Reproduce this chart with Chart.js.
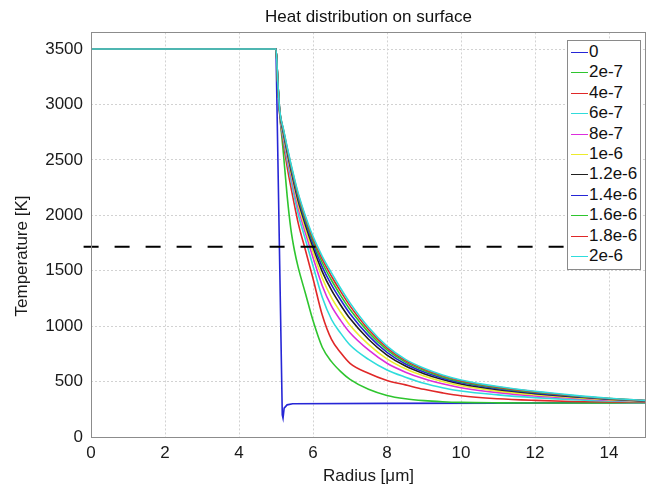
<!DOCTYPE html>
<html><head><meta charset="utf-8">
<script src="https://cdn.jsdelivr.net/npm/chart.js@4.4.0/dist/chart.umd.min.js"></script>
<style>
html,body{margin:0;padding:0;background:#fff;}
#wrap{position:relative;width:653px;height:488px;}
#legend{position:absolute;left:567px;top:40px;width:74px;height:230px;border:1px solid #8a8a8a;background:#fff;font:17px "Liberation Sans",Arial,sans-serif;color:#111;box-sizing:border-box;padding-top:1px}
.item{height:20.4px;line-height:20.4px;position:relative;white-space:nowrap}
.item .l{position:absolute;left:3px;top:10px;width:17px;height:0;border-top:1px solid}
.item .t{position:absolute;left:21px;top:0}
</style></head><body>
<div id="wrap"><canvas id="c" width="653" height="488"></canvas><div id="legend"></div></div>
<script>
// ---- data ----
const seriesLabels = ['0','2e-7','4e-7','6e-7','8e-7','1e-6','1.2e-6','1.4e-6','1.6e-6','1.8e-6','2e-6'];
const xTicks = [0,2,4,6,8,10,12,14];
const yTicks = [0,500,1000,1500,2000,2500,3000,3500];

// t = 0 profile (radius in µm, temperature in K)
const radius0 = [0, 5, 5.17, 5.19, 5.22, 5.3, 5.45, 8, 11, 15];
const temp0   = [3500, 3500, 200, 170, 260, 290, 300, 303, 306, 310];

// common radius grid for the later profiles
const radius = [0, 5, 5.05, 5.1, 5.2, 5.3, 5.4, 5.5, 5.6, 5.8, 6, 6.25, 6.5, 6.75, 7, 7.5, 8, 8.5, 9, 9.5, 10, 11, 12, 13, 14, 15];
const temp2e7  = [3500,3500,3170,2920,2560,2180,1880,1680,1530,1290,1050, 810, 680, 590, 520, 430, 375, 345, 328, 318, 312, 308, 307, 307, 308, 310];
const temp4e7  = [3500,3500,3180,2910,2650,2440,2260,2090,1930,1680,1430,1100, 880, 760, 665, 575, 510, 470, 430, 398, 372, 345, 330, 320, 316, 315];
const temp6e7  = [3500,3500,3185,2920,2685,2495,2325,2160,2010,1775,1545,1260,1060, 935, 830, 700, 605, 540, 485, 445, 415, 380, 355, 337, 326, 320];
const temp8e7  = [3500,3500,3190,2928,2712,2530,2365,2210,2065,1835,1620,1365,1180,1050, 940, 785, 665, 585, 525, 480, 445, 400, 370, 350, 333, 323];
const temp1e6  = [3500,3500,3192,2934,2728,2553,2392,2241,2100,1875,1670,1435,1258,1125,1008, 836, 705, 615, 550, 500, 462, 414, 382, 357, 337, 324];
const temp12e6 = [3500,3500,3195,2938,2744,2573,2415,2268,2130,1909,1711,1492,1324,1189,1068, 882, 739, 640, 571, 518, 478, 426, 391, 363, 341, 326];
const temp14e6 = [3500,3500,3196,2941,2755,2588,2432,2287,2151,1934,1742,1535,1372,1236,1112, 915, 764, 659, 586, 531, 489, 435, 397, 368, 344, 327];
const temp16e6 = [3500,3500,3198,2945,2765,2600,2447,2304,2170,1956,1768,1572,1414,1276,1150, 944, 786, 675, 599, 542, 499, 443, 403, 372, 346, 328];
const temp18e6 = [3500,3500,3199,2948,2773,2611,2460,2318,2187,1975,1791,1604,1450,1311,1183, 969, 805, 689, 611, 552, 508, 450, 408, 375, 348, 329];
const temp2e6  = [3500,3500,3200,2950,2780,2620,2470,2330,2200,1990,1810,1630,1480,1340,1210, 990, 820, 700, 620, 560, 515, 455, 412, 378, 350, 330];

// horizontal reference level (dashed), ends at the legend
const levelRadius = [-0.2, 12.8];
const levelTemp = [1716, 1716];

// ---- styles ----
const lineColors = ['#2626d6','#2ec52e','#e02828','#2fdcdc','#dc2edc','#ecec2c','#202020','#2626d6','#2ec52e','#e02828','#2fdcdc'];

const laterSeries = [temp2e7,temp4e7,temp6e7,temp8e7,temp1e6,temp12e6,temp14e6,temp16e6,temp18e6,temp2e6];
const FONT = '"Liberation Sans", Arial, sans-serif';
Chart.defaults.font.family = FONT;
Chart.defaults.color = '#1a1a1a';

const datasets = [];
datasets.push({
  label: seriesLabels[0],
  data: radius0.map((x,i)=>({x:x, y:temp0[i]})),
  borderColor: lineColors[0], borderWidth: 1.6, pointRadius: 0, tension: 0, order: 50
});
laterSeries.forEach((arr,k)=>{
  datasets.push({
    label: seriesLabels[k+1],
    data: radius.map((x,i)=>({x:x, y:arr[i]})),
    borderColor: lineColors[k+1], borderWidth: 1.6, pointRadius: 0,
    cubicInterpolationMode: 'monotone', order: 49-k
  });
});
datasets.push({
  label: 'level',
  data: levelRadius.map((x,i)=>({x:x, y:levelTemp[i]})),
  borderColor: '#000', borderWidth: 2, borderDash: [15,16], pointRadius: 0,
  clip: false, order: 0
});

const boxPlugin = {
  id: 'box',
  afterDatasetsDraw(chart){
    const a = chart.chartArea, ctx = chart.ctx;
    ctx.save();
    ctx.strokeStyle = '#8c8c8c'; ctx.lineWidth = 1;
    ctx.strokeRect(Math.round(a.left)+0.5, Math.round(a.top)+0.5, Math.round(a.right-a.left)-1, Math.round(a.bottom-a.top));
    ctx.restore();
  },
  afterDraw(chart){
    // y axis title, placed where the reference has it
    const ctx = chart.ctx;
    ctx.save();
    ctx.translate(22, 256);
    ctx.rotate(-Math.PI/2);
    ctx.font = '17px ' + FONT;
    ctx.fillStyle = '#1a1a1a';
    ctx.textAlign = 'center';
    ctx.textBaseline = 'middle';
    ctx.fillText('Temperature [K]', 0, 0);
    ctx.restore();
  }
};

new Chart(document.getElementById('c'), {
  type: 'scatter',
  data: { datasets },
  options: {
    responsive: false, animation: false, devicePixelRatio: 1,
    showLine: true,
    layout: { padding: { left: 0, right: 7, top: 0, bottom: 0 } },
    plugins: {
      legend: { display: false },
      tooltip: { enabled: false },
      title: { display: true, text: 'Heat distribution on surface', fullSize: false,
               font: { size: 17, weight: 'normal', family: FONT }, color: '#111',
               padding: { top: 7, bottom: 5 } }
    },
    scales: {
      x: {
        type: 'linear', min: 0, max: 15,
        afterBuildTicks(s){ s.ticks = xTicks.map(v=>({value:v})); },
        afterFit(s){ s.height = 51; },
        ticks: { font: { size: 17 }, color: '#1a1a1a', padding: 6, includeBounds: false,
                 callback: v => String(v) },
        grid: { color: '#d2d2d2', drawTicks: false },
        border: { display: false, dash: [2,2] },
        title: { display: true, text: 'Radius [μm]', font: { size: 17 }, color: '#1a1a1a', padding: { top: 0, bottom: 1 } }
      },
      y: {
        type: 'linear', min: 0, max: 3650,
        afterBuildTicks(s){ s.ticks = yTicks.map(v=>({value:v})); },
        afterFit(s){ s.width = 91; },
        ticks: { font: { size: 17 }, color: '#1a1a1a', padding: 8, includeBounds: false,
                 callback: v => String(v) },
        grid: { color: '#d2d2d2', drawTicks: false },
        border: { display: false, dash: [2,2] },
        title: { display: false }
      }
    }
  },
  plugins: [boxPlugin]
});

// legend (HTML, built from the label/colour arrays)
const leg = document.getElementById('legend');
seriesLabels.forEach((lab,i)=>{
  const d = document.createElement('div'); d.className = 'item';
  const l = document.createElement('span'); l.className = 'l'; l.style.borderColor = lineColors[i];
  const t = document.createElement('span'); t.className = 't'; t.textContent = lab;
  d.appendChild(l); d.appendChild(t); leg.appendChild(d);
});
</script></body></html>
